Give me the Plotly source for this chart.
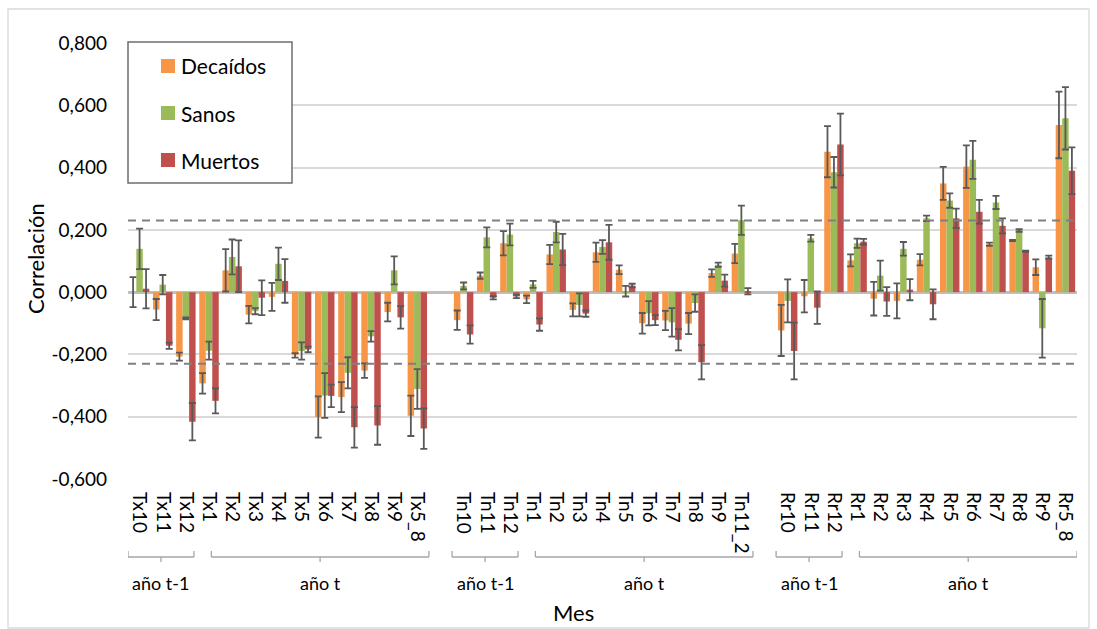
import plotly.graph_objects as go

# Categories: three variable blocks (Tx, Tn, Rr), each with previous-year and current-year months
tx_labels = ["Tx10", "Tx11", "Tx12", "Tx1", "Tx2", "Tx3", "Tx4", "Tx5", "Tx6", "Tx7", "Tx8", "Tx9", "Tx5_8"]
tn_labels = ["Tn10", "Tn11", "Tn12", "Tn1", "Tn2", "Tn3", "Tn4", "Tn5", "Tn6", "Tn7", "Tn8", "Tn9", "Tn11_2"]
rr_labels = ["Rr10", "Rr11", "Rr12", "Rr1", "Rr2", "Rr3", "Rr4", "Rr5", "Rr6", "Rr7", "Rr8", "Rr9", "Rr5_8"]

# Correlation coefficients per series
decaidos_tx = [0.000, -0.056, -0.207, -0.293, 0.070, -0.072, -0.015, -0.203, -0.401, -0.337, -0.252, -0.064, -0.397]
sanos_tx = [0.139, 0.024, -0.084, -0.188, 0.113, -0.061, 0.091, -0.189, -0.332, -0.259, -0.142, 0.070, -0.311]
muertos_tx = [0.011, -0.172, -0.416, -0.349, 0.083, -0.018, 0.036, -0.184, -0.333, -0.434, -0.428, -0.081, -0.438]

decaidos_tn = [-0.090, 0.053, 0.157, -0.023, 0.121, -0.057, 0.128, 0.072, -0.100, -0.091, -0.101, 0.061, 0.124]
sanos_tn = [0.020, 0.176, 0.185, 0.025, 0.193, -0.041, 0.145, 0.003, -0.068, -0.097, -0.035, 0.088, 0.231]
muertos_tn = [-0.136, -0.018, -0.014, -0.104, 0.137, -0.069, 0.160, 0.021, -0.090, -0.153, -0.225, 0.037, 0.003]

decaidos_rr = [-0.123, -0.013, 0.451, 0.102, -0.021, -0.028, 0.104, 0.349, 0.403, 0.154, 0.166, 0.080, 0.537]
sanos_rr = [-0.028, 0.173, 0.385, 0.157, 0.053, 0.139, 0.237, 0.294, 0.425, 0.288, 0.198, -0.116, 0.558]
muertos_rr = [-0.189, -0.050, 0.474, 0.162, -0.030, 0.008, -0.039, 0.237, 0.258, 0.213, 0.131, 0.112, 0.390]

# Error bar half-lengths
err_decaidos_tx = [0.048, 0.034, 0.013, 0.033, 0.068, 0.028, 0.045, 0.007, 0.066, 0.048, 0.023, 0.030, 0.065]
err_sanos_tx = [0.065, 0.031, 0.003, 0.029, 0.056, 0.010, 0.052, 0.028, 0.072, 0.050, 0.017, 0.045, 0.064]
err_muertos_tx = [0.063, 0.010, 0.060, 0.040, 0.083, 0.056, 0.070, 0.009, 0.036, 0.065, 0.062, 0.036, 0.065]

err_decaidos_tn = [0.031, 0.010, 0.039, 0.012, 0.031, 0.021, 0.031, 0.014, 0.033, 0.031, 0.034, 0.012, 0.031]
err_sanos_tn = [0.011, 0.032, 0.035, 0.011, 0.033, 0.037, 0.022, 0.017, 0.039, 0.046, 0.028, 0.007, 0.047]
err_muertos_tn = [0.029, 0.005, 0.005, 0.020, 0.050, 0.010, 0.056, 0.006, 0.016, 0.034, 0.055, 0.019, 0.010]

err_decaidos_rr = [0.082, 0.052, 0.082, 0.019, 0.054, 0.056, 0.018, 0.053, 0.068, 0.005, 0.002, 0.025, 0.107]
err_sanos_rr = [0.069, 0.011, 0.049, 0.015, 0.048, 0.022, 0.009, 0.023, 0.061, 0.021, 0.004, 0.094, 0.100]
err_muertos_rr = [0.091, 0.052, 0.099, 0.009, 0.046, 0.034, 0.048, 0.031, 0.038, 0.024, 0.002, 0.005, 0.075]

significance = 0.23
y_ticks = [-0.6, -0.4, -0.2, 0.0, 0.2, 0.4, 0.6, 0.8]
group_names = ["año t-1", "año t"]

FONT = "Lato"
colors = {"Decaídos": "#F79646", "Sanos": "#9BBB59", "Muertos": "#C0504D"}

# Slot positions: each block takes 13 slots, with one empty slot between blocks
blocks = [tx_labels, tn_labels, rr_labels]
block_start = [b * 14 for b in range(len(blocks))]
x_pos, x_text = [], []
for start, labels in zip(block_start, blocks):
    for i, lab in enumerate(labels):
        x_pos.append(start + i)
        x_text.append(lab)

series = [
    ("Decaídos", decaidos_tx + decaidos_tn + decaidos_rr, err_decaidos_tx + err_decaidos_tn + err_decaidos_rr),
    ("Sanos", sanos_tx + sanos_tn + sanos_rr, err_sanos_tx + err_sanos_tn + err_sanos_rr),
    ("Muertos", muertos_tx + muertos_tn + muertos_rr, err_muertos_tx + err_muertos_tn + err_muertos_rr),
]

fig = go.Figure()
for name, vals, errs in series:
    fig.add_trace(go.Bar(
        x=x_pos, y=vals, name=name, marker_color=colors[name], marker_line_width=0,
        error_y=dict(type="data", array=errs, visible=True, color="#595959", thickness=1.8, width=3.5),
        showlegend=False,
    ))

W, H = 1097, 629
L, R, T, B = 128, 20, 43, 150
pw, ph = W - L - R, H - T - B


def px_x(px):
    return (px - L) / pw


def px_y(py):
    return (H - B - py) / ph


shapes = []
annotations = []

# Significance thresholds
for s in (significance, -significance):
    shapes.append(dict(type="line", xref="paper", yref="y", x0=0, x1=1, y0=s, y1=s,
                       line=dict(color="#808080", width=2, dash="8px,6px"), layer="above"))

# Category-group brackets under the tick labels
bracket_y = px_y(557)
for start in block_start:
    spans = [(start - 0.5, start + 2.35), (start + 3.1, start + 12.5)]
    for (a, b), gname in zip(spans, group_names):
        line = dict(color="#a6a6a6", width=1.3)
        shapes.append(dict(type="line", xref="x", yref="paper", x0=a, x1=b, y0=bracket_y, y1=bracket_y, line=line))
        for e in (a, b):
            shapes.append(dict(type="line", xref="x", yref="paper", x0=e, x1=e, y0=bracket_y, y1=px_y(551), line=line))
        c = (a + b) / 2
        shapes.append(dict(type="line", xref="x", yref="paper", x0=c, x1=c, y0=bracket_y, y1=px_y(562), line=line))
        annotations.append(dict(x=c, xref="x", y=px_y(583), yref="paper", text=gname, showarrow=False,
                                font=dict(family=FONT, size=18, color="#000000"), xanchor="center", yanchor="middle"))

# Legend box
shapes.append(dict(type="rect", xref="paper", yref="paper", x0=px_x(128), x1=px_x(292), y0=px_y(42), y1=px_y(183),
                   fillcolor="white", line=dict(color="#6d6d6d", width=1.5), layer="above"))
for name, cy in zip(["Decaídos", "Sanos", "Muertos"], [66, 113, 160]):
    shapes.append(dict(type="rect", xref="paper", yref="paper", x0=px_x(161), x1=px_x(175), y0=px_y(cy - 7), y1=px_y(cy + 7),
                       fillcolor=colors[name], line=dict(width=0), layer="above"))
    annotations.append(dict(x=px_x(179), xref="paper", y=px_y(cy), yref="paper", text=name, showarrow=False,
                            font=dict(family=FONT, size=21, color="#000000"), xanchor="left", yanchor="middle"))

# Outer chart-area border
shapes.append(dict(type="rect", xref="paper", yref="paper", x0=px_x(8), x1=px_x(1089), y0=px_y(9), y1=px_y(628),
                   line=dict(color="#d9d9d9", width=1.3), fillcolor="rgba(0,0,0,0)"))

# Axis titles
annotations.append(dict(x=px_x(35), xref="paper", y=px_y(259), yref="paper", text="Correlación", textangle=-90,
                        showarrow=False, font=dict(family=FONT, size=22, color="#000000"),
                        xanchor="center", yanchor="middle"))
annotations.append(dict(x=px_x(573), xref="paper", y=px_y(612), yref="paper", text="Mes", showarrow=False,
                        font=dict(family=FONT, size=22, color="#000000"), xanchor="center", yanchor="middle"))

fig.update_layout(
    width=W, height=H,
    margin=dict(l=L, r=R, t=T, b=B, pad=0),
    paper_bgcolor="white", plot_bgcolor="white",
    barmode="group", bargap=0.16, bargroupgap=0,
    font=dict(family=FONT, color="#000000"),
    shapes=shapes, annotations=annotations,
    xaxis=dict(
        range=[-0.5, 40.5], tickmode="array", tickvals=x_pos, ticktext=x_text, tickangle=90,
        tickfont=dict(family=FONT, size=19, color="#000000"), showgrid=False, zeroline=False,
        showline=False, ticks="", ticklabelstandoff=12,
    ),
    yaxis=dict(
        range=[-0.6, 0.8], tickmode="array", tickvals=y_ticks,
        ticktext=[f"{v:.3f}".replace(".", ",") for v in y_ticks],
        tickfont=dict(family=FONT, size=19, color="#000000"),
        showgrid=True, gridcolor="#d9d9d9", gridwidth=2,
        zeroline=True, zerolinecolor="#bfbfbf", zerolinewidth=2.5,
        showline=False, ticks="", ticklabelstandoff=20,
    ),
)

fig.write_html("out.html")
